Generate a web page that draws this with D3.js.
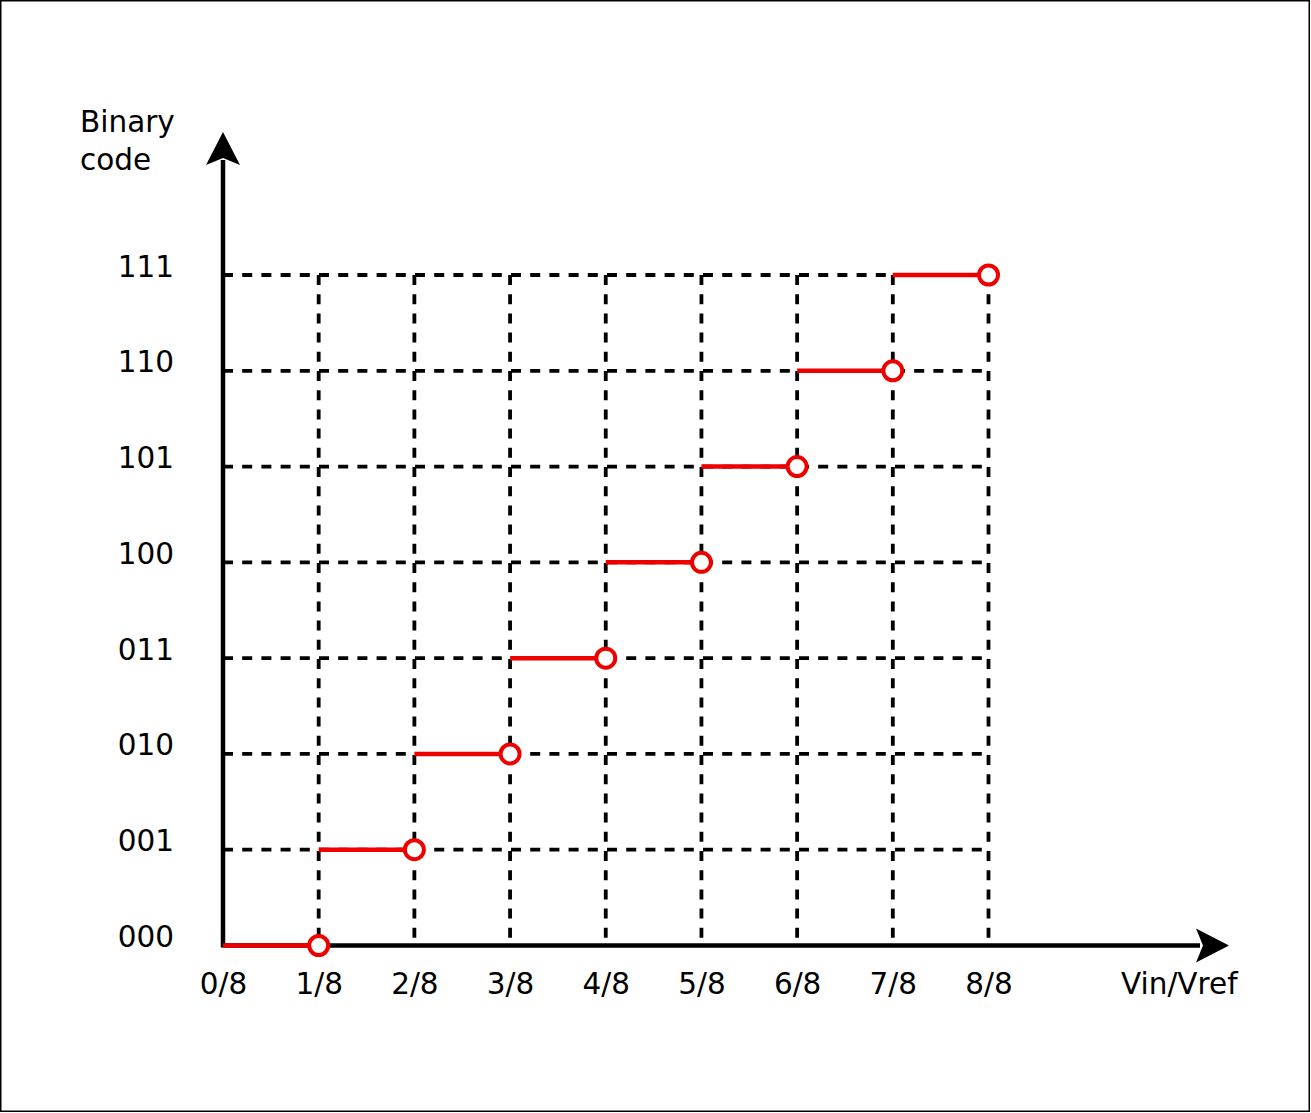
<!DOCTYPE html>
<html>
<head>
<meta charset="utf-8">
<script src="https://cdn.jsdelivr.net/npm/d3@7"></script>
<style>
  html, body { margin: 0; padding: 0; background: #fff; }
  svg { display: block; }
  text { font-family: "DejaVu Sans", sans-serif; }
</style>
</head>
<body>
<svg id="chart" width="1311" height="1113"></svg>
<script>
// ---- data ----
const codeLabels = ["000", "001", "010", "011", "100", "101", "110", "111"];
const codeValues = [0, 1, 2, 3, 4, 5, 6, 7];
const xTickLabels = ["0/8", "1/8", "2/8", "3/8", "4/8", "5/8", "6/8", "7/8", "8/8"];
const xTickValues = [0, 1, 2, 3, 4, 5, 6, 7, 8];
const stepStart = [0, 1, 2, 3, 4, 5, 6, 7];   // in eighths of Vref
const stepEnd   = [1, 2, 3, 4, 5, 6, 7, 8];
const xAxisTitle = "Vin/Vref";
const yAxisTitle = ["Binary", "code"];

// ---- layout ----
const svg = d3.select("#chart");
const RED = "#ee0000";
const FS = 29.5;

svg.append("rect").attr("x", 0.75).attr("y", 0.75).attr("width", 1308.5).attr("height", 1110.5)
  .attr("fill", "#fff").attr("stroke", "#000").attr("stroke-width", 1.5);

const x = d3.scaleLinear().domain([0, 8]).range([223, 988.5]);
const y = d3.scaleLinear().domain([0, 7]).range([945.5, 275]);

// grid (dashed)
const grid = svg.append("g");
grid.selectAll("line.h").data(codeValues.filter(v => v > 0)).join("line")
  .attr("x1", x(0)).attr("x2", x(8))
  .attr("y1", d => y(d)).attr("y2", d => y(d))
  .attr("stroke", "#000").attr("stroke-width", 3.8).attr("stroke-dasharray", "10 9.2");
grid.selectAll("line.v").data(xTickValues.filter(v => v > 0)).join("line")
  .attr("x1", d => x(d)).attr("x2", d => x(d))
  .attr("y1", y(7)).attr("y2", y(0))
  .attr("stroke", "#000").attr("stroke-width", 3.8).attr("stroke-dasharray", "10 9.2");

// axes lines with arrows
const axisG = svg.append("g");
axisG.append("line").attr("x1", x(0)).attr("x2", 1200).attr("y1", y(0)).attr("y2", y(0))
  .attr("stroke", "#000").attr("stroke-width", 4.5);
axisG.append("line").attr("x1", x(0)).attr("x2", x(0)).attr("y1", y(0) + 2).attr("y2", 160)
  .attr("stroke", "#000").attr("stroke-width", 4.5);
// arrowheads
axisG.append("path")
  .attr("d", `M1229,${y(0)} L1196,${y(0) - 17} L1203,${y(0)} L1196,${y(0) + 17} Z`)
  .attr("fill", "#000");
axisG.append("path")
  .attr("d", `M${x(0)},132 L${x(0) - 17},165 L${x(0)},158 L${x(0) + 17},165 Z`)
  .attr("fill", "#000");

// tick labels via d3 axes
const xAxis = d3.axisBottom(x).tickValues(xTickValues)
  .tickFormat((d, i) => xTickLabels[i]).tickSize(0).tickPadding(0);
const gx = svg.append("g").attr("transform", `translate(0,${y(0)})`).call(xAxis);
gx.select(".domain").remove();
gx.selectAll("text").attr("font-family", "DejaVu Sans").attr("font-size", FS)
  .attr("fill", "#000").attr("y", 48.5).attr("dy", 0);

const yAxis = d3.axisLeft(y).tickValues(codeValues)
  .tickFormat((d, i) => codeLabels[i]).tickSize(0).tickPadding(0);
const gy = svg.append("g").attr("transform", `translate(174,0)`).call(yAxis);
gy.select(".domain").remove();
gy.selectAll("text").attr("font-family", "DejaVu Sans").attr("font-size", FS)
  .attr("fill", "#000").attr("x", 0).attr("dy", 1);

// axis titles
svg.append("text").attr("x", 1121).attr("y", 994).attr("font-size", FS).attr("fill", "#000").text(xAxisTitle);
svg.append("text").attr("x", 80).attr("y", 132).attr("font-size", FS).attr("fill", "#000").text(yAxisTitle[0]);
svg.append("text").attr("x", 80).attr("y", 170).attr("font-size", FS).attr("fill", "#000").text(yAxisTitle[1]);

// transfer steps
const steps = svg.append("g");
steps.selectAll("line").data(codeValues).join("line")
  .attr("x1", (d, i) => x(stepStart[i])).attr("x2", (d, i) => x(stepEnd[i]))
  .attr("y1", d => y(d)).attr("y2", d => y(d))
  .attr("stroke", RED).attr("stroke-width", 4.5);
steps.selectAll("circle").data(codeValues).join("circle")
  .attr("cx", (d, i) => x(stepEnd[i])).attr("cy", d => y(d)).attr("r", 9.5)
  .attr("fill", "#fff").attr("stroke", RED).attr("stroke-width", 4);
</script>
</body>
</html>
